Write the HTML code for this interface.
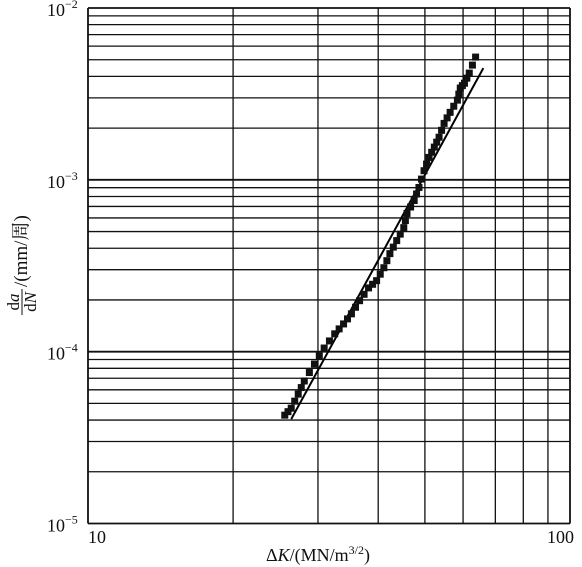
<!DOCTYPE html>
<html><head><meta charset="utf-8">
<style>
html,body{margin:0;padding:0;background:#fff;}
svg{display:block;font-family:"Liberation Serif","Noto Serif CJK SC",serif;}
</style></head>
<body>
<svg id="chart" width="582" height="567" viewBox="0 0 582 567" xmlns="http://www.w3.org/2000/svg">
<g id="grid"></g>
<g id="marks"></g>
<g id="labels"></g>
</svg>
<script>
const xTicks = [10,20,30,40,50,60,70,80,90,100];
const yDecades = [1e-5,1e-4,1e-3];
const yTickLabels = ["-5","-4","-3","-2"];
const deltaK = [25.6,26.4,27.3,28.1,29.5,30.9,32.5,33.9,35.2,36.6,38.2,39.7,41.1,42.3,43.7,45.2,45.9,47.5,48.6,49.8,51.0,52.3,53.5,54.8,56.4,58.4,59.2,60.4,61.8,63.7];
const dadN = [4.27e-5,4.69e-5,5.66e-5,6.75e-5,8.47e-5,1.05e-4,1.27e-4,1.45e-4,1.66e-4,1.98e-4,2.35e-4,2.59e-4,3.08e-4,3.72e-4,4.43e-4,5.27e-4,6.37e-4,7.58e-4,9.03e-4,1.13e-3,1.35e-3,1.55e-3,1.77e-3,2.13e-3,2.47e-3,2.91e-3,3.42e-3,3.65e-3,4.18e-3,5.18e-3];
const fitK = [26.4,66.1];
const fitRate = [4.05e-5,4.47e-3];

const L=88, W=482, B=523.5, T=8, H=(B-T)/3;
const NS="http://www.w3.org/2000/svg";
function sx(v){return L+W*Math.log10(v/10);}
function sy(v){return B-H*Math.log10(v/1e-5);}
function mk(tag,attrs,parent){const e=document.createElementNS(NS,tag);for(const k in attrs)e.setAttribute(k,attrs[k]);parent.appendChild(e);return e;}
const grid=document.getElementById('grid'), marks=document.getElementById('marks'), labels=document.getElementById('labels');

xTicks.forEach(v=>{
  const x=sx(v);
  const l=mk('line',{x1:x,x2:x,y1:T,y2:B,stroke:'#111','stroke-width':(v===10||v===100)?1.8:1.3},grid);
  
  
});
yDecades.forEach(d=>{
  for(let m=1;m<=10;m++){
    const v=d*m;
    if(m===10 && d!==1e-3) continue;
    const y=sy(v);
    const l=mk('line',{x1:L,x2:sx(100),y1:y,y2:y,stroke:'#111','stroke-width':(m===1||m===10)?1.8:1.3},grid);
    
    
  }
});

const fl=mk('line',{x1:sx(fitK[0]),y1:sy(fitRate[0]),x2:sx(fitK[1]),y2:sy(fitRate[1]),stroke:'#000','stroke-width':2},marks);



deltaK.forEach((k,i)=>{
  const x=sx(k), y=sy(dadN[i]);
  const r=mk('rect',{x:x-3.5,y:y-3.5,width:7,height:7,fill:'#111'},marks);
  
  
  if(i<deltaK.length-1){
    const k2=Math.sqrt(k*deltaK[i+1]), r2v=Math.sqrt(dadN[i]*dadN[i+1]);
    const m=mk('rect',{x:sx(k2)-3.5,y:sy(r2v)-3.5,width:7,height:7,fill:'#111'},marks);
    
    
  }
});

const yVals=[1e-5,1e-4,1e-3,1e-2];
yVals.forEach((v,i)=>{
  const y=sy(v);
  const t=mk('text',{x:47,y:y+8,'font-size':18,fill:'#111'},labels);
  t.textContent='10';
  const s=mk('tspan',{dy:-8,'font-size':12},t);
  s.textContent='−'+yTickLabels[i].slice(1);
  
  
});
const t10=mk('text',{x:88,y:543,'font-size':18,fill:'#111'},labels);
t10.textContent='10';


const t100=mk('text',{x:574,y:543,'font-size':18,fill:'#111','text-anchor':'end'},labels);
t100.textContent='100';



const xt=mk('text',{x:318,y:561,'font-size':18,fill:'#111','text-anchor':'middle'},labels);
xt.innerHTML='Δ<tspan font-style="italic">K</tspan>/(MN/m<tspan dy="-7" font-size="12">3/2</tspan><tspan dy="7">)</tspan>';



const yg=mk('g',{transform:'translate(22,258) rotate(-90)'},labels);


const n1=mk('text',{x:-44,y:-3,'font-size':17,fill:'#111','text-anchor':'middle'},yg);
n1.innerHTML='d<tspan font-style="italic">a</tspan>';
mk('line',{x1:-57,x2:-31,y1:0,y2:0,stroke:'#111','stroke-width':1},yg);
const n2=mk('text',{x:-44,y:14,'font-size':17,fill:'#111','text-anchor':'middle'},yg);
n2.innerHTML='d<tspan font-style="italic">N</tspan>';
const rest=mk('text',{x:-29,y:5,'font-size':19,fill:'#111'},yg);
rest.textContent='/(mm/周)';
</script>
</body></html>
